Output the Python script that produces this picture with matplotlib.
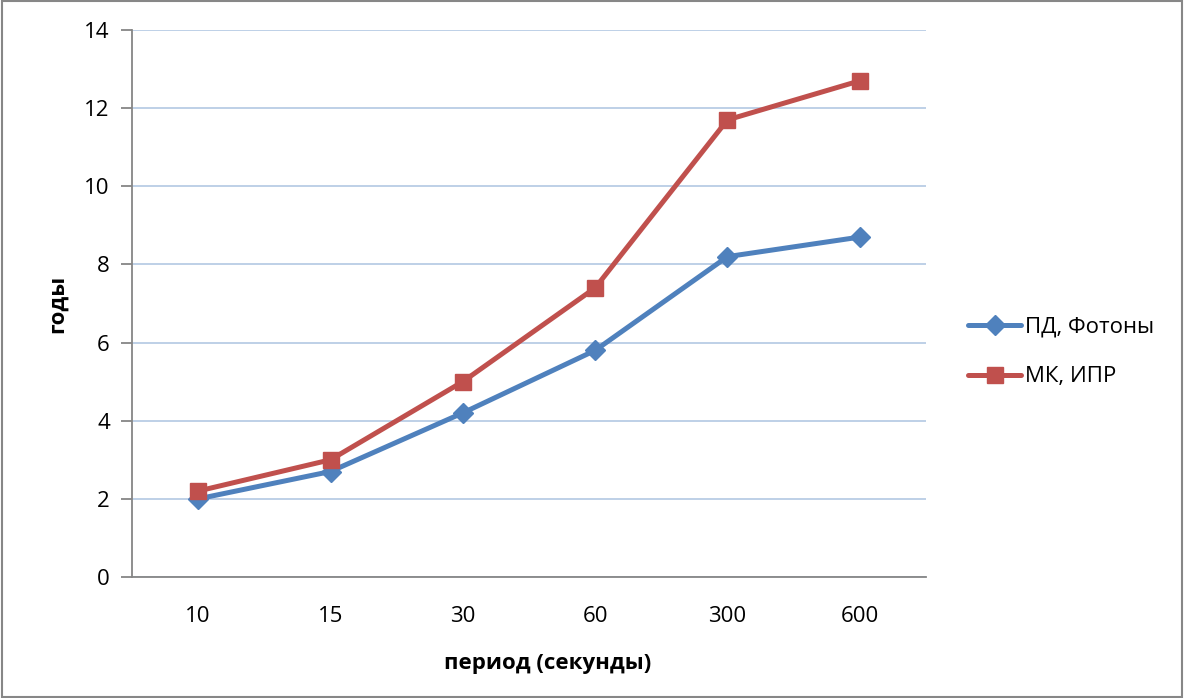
import matplotlib.pyplot as plt
from matplotlib.patches import Rectangle

plt.rcParams['font.family'] = ['Open Sans', 'DejaVu Sans']

periods = ['10', '15', '30', '60', '300', '600']
pd_photons = [2.0, 2.7, 4.2, 5.8, 8.2, 8.7]
mk_ipr = [2.2, 3.0, 5.0, 7.4, 11.7, 12.7]

blue = '#4F81BD'
red = '#C0504D'
axis_gray = '#868686'
fs = 16

fig = plt.figure(figsize=(11.84, 6.98), dpi=100)
ax = fig.add_axes([132 / 1184, 1 - 577 / 698, 794 / 1184, 547 / 698])

x = list(range(len(periods)))
ax.plot(x, pd_photons, color=blue, lw=3.6, marker='D', markersize=10,
        label='ПД, Фотоны', solid_capstyle='round')
ax.plot(x, mk_ipr, color=red, lw=3.6, marker='s', markersize=12,
        label='МК, ИПР', solid_capstyle='round')

ax.set_xlim(-0.5, len(periods) - 0.5)
ax.set_ylim(0, 14)
ax.set_yticks(range(0, 15, 2))
ax.set_xticks(x)
ax.set_xticklabels(periods)
ax.grid(axis='y', color='#B9CDE5', lw=1.3)
ax.set_axisbelow(True)

for side in ['top', 'right']:
    ax.spines[side].set_visible(False)
for side in ['left', 'bottom']:
    ax.spines[side].set_color(axis_gray)
    ax.spines[side].set_linewidth(1.3)
ax.tick_params(axis='y', length=8, color=axis_gray, width=1.3, labelsize=fs, pad=8)
ax.tick_params(axis='x', length=0, labelsize=fs, pad=21)

ax.set_ylabel('годы', fontsize=fs, fontweight='bold', labelpad=12)
fig.text(548 / 1184, 1 - 663 / 698, 'период (секунды)', fontsize=fs,
         fontweight='bold', ha='center', va='center')

fig.legend(loc='center left', bbox_to_anchor=(948 / 1184, 1 - 352 / 698),
           frameon=False, fontsize=fs, handlelength=2.4, handletextpad=0.15,
           labelspacing=1.3)

fig.patches.append(Rectangle((0.002, 0.002), 0.996, 0.996, transform=fig.transFigure,
                             fill=False, edgecolor='#878787', lw=1.5))

fig.savefig('out.png', dpi=100)
